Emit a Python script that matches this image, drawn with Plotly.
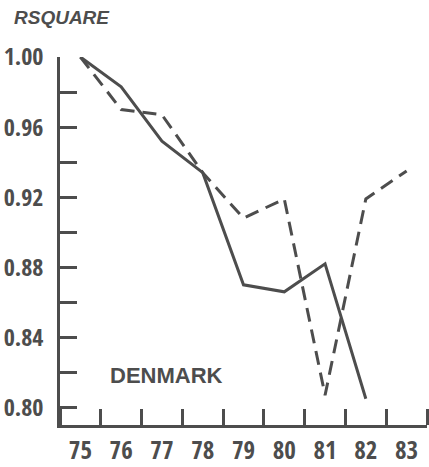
import plotly.graph_objects as go

# Years shown on the horizontal axis
years = [75, 76, 77, 78, 79, 80, 81, 82, 83]
year_labels = ["75", "76", "77", "78", "79", "80", "81", "82", "83"]

# R-square series
solid_years = [75, 76, 77, 78, 79, 80, 81, 82]
solid_rsq = [1.00, 0.983, 0.952, 0.934, 0.870, 0.866, 0.882, 0.805]

dashed_years = [75, 76, 77, 78, 79, 80, 81, 82, 83]
dashed_rsq = [1.00, 0.970, 0.967, 0.934, 0.908, 0.919, 0.807, 0.919, 0.935]

# Vertical axis ticks
y_ticks = [0.80, 0.84, 0.88, 0.92, 0.96, 1.00]
y_tick_labels = ["0.80", "0.84", "0.88", "0.92", "0.96", "1.00"]

INK = "#4d4d4d"
CONDENSED = "Open Sans Condensed, Roboto Condensed, DejaVu Sans Condensed, sans-serif"
SANS = "Liberation Sans, Arial, sans-serif"

fig = go.Figure()
fig.add_trace(go.Scatter(
    x=solid_years, y=solid_rsq, mode="lines",
    line=dict(color=INK, width=3), cliponaxis=False, showlegend=False,
))
fig.add_trace(go.Scatter(
    x=dashed_years, y=dashed_rsq, mode="lines",
    line=dict(color=INK, width=3, dash="14px,8px"), cliponaxis=False,
    showlegend=False,
))

fig.update_layout(
    width=429, height=467,
    margin=dict(l=60, r=2, t=57, b=42),
    paper_bgcolor="white", plot_bgcolor="white",
    xaxis=dict(
        range=[74.5, 83.5], tickmode="array", tickvals=years,
        ticktext=year_labels, ticks="", showgrid=False, zeroline=False,
        automargin=False,
        showline=True, linecolor=INK, linewidth=2.5,
        tickfont=dict(family=CONDENSED, size=25, color=INK, weight="bold"),
        ticklabelstandoff=1,
        minor=dict(tick0=75.5, dtick=1, ticks="inside", ticklen=16,
                   tickwidth=2.5, tickcolor=INK, showgrid=False),
    ),
    yaxis=dict(
        range=[0.79, 1.0], tickmode="array", tickvals=y_ticks,
        ticktext=y_tick_labels, ticks="inside", ticklen=17, tickwidth=2.5,
        tickcolor=INK, showgrid=False, zeroline=False, automargin=False,
        showline=True, linecolor=INK, linewidth=2.5,
        tickfont=dict(family=CONDENSED, size=24, color=INK, weight="bold"),
        ticklabelstandoff=9,
        minor=dict(tick0=0.82, dtick=0.04, ticks="inside", ticklen=17,
                   tickwidth=2.5, tickcolor=INK, showgrid=False),
    ),
    annotations=[
        dict(text="RSQUARE", xref="paper", yref="paper", x=-0.131, y=1.106,
             xanchor="left", yanchor="middle", showarrow=False,
             font=dict(family=SANS, size=19, color=INK, weight="bold",
                       style="italic")),
        dict(text="DENMARK", xref="x", yref="y", x=75.68, y=0.818,
             xanchor="left", yanchor="middle", showarrow=False,
             font=dict(family=SANS, size=22, color=INK, weight="bold")),
    ],
)

fig.write_html("out.html")
